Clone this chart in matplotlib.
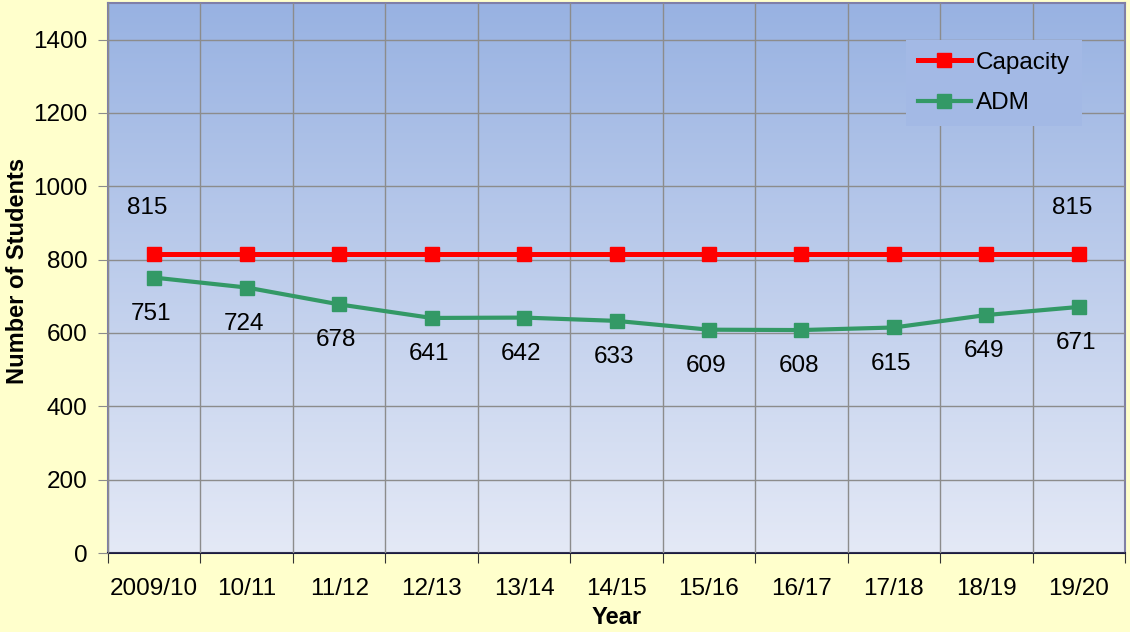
import numpy as np
import matplotlib.pyplot as plt
from matplotlib.colors import LinearSegmentedColormap

plt.rcParams['font.family'] = ['Liberation Sans', 'DejaVu Sans']

years = ['2009/10', '10/11', '11/12', '12/13', '13/14', '14/15',
         '15/16', '16/17', '17/18', '18/19', '19/20']
capacity = [815, 815, 815, 815, 815, 815, 815, 815, 815, 815, 815]
adm = [751, 724, 678, 641, 642, 633, 609, 608, 615, 649, 671]

fs = 17.5

fig = plt.figure(figsize=(11.3, 6.32), dpi=100, facecolor='#FFFFCC')
ax = fig.add_axes([0.0956, 0.125, 0.9, 0.8703])

x = np.arange(len(years))

# gradient background of the plot area
grad = LinearSegmentedColormap.from_list('bg', ['#E4E9F6', '#98B2E2'])
ax.imshow(np.linspace(0, 1, 256).reshape(-1, 1), cmap=grad, origin='lower',
          extent=[-0.5, len(years) - 0.5, 0, 1500], aspect='auto', zorder=0)

ax.plot(x, capacity, color='#FF0000', lw=3.6, marker='s', ms=10, label='Capacity', zorder=4)
ax.plot(x, adm, color='#339966', lw=3.0, marker='s', ms=10, label='ADM', zorder=3)

# data labels
for i in [0, len(years) - 1]:
    ax.annotate(str(capacity[i]), (x[i], capacity[i]), xytext=(-5, 33),
                textcoords='offset points', ha='center', va='center', fontsize=fs)
for i, v in enumerate(adm):
    ax.annotate(str(v), (x[i], v), xytext=(-2, -26),
                textcoords='offset points', ha='center', va='center', fontsize=fs)

ax.set_xlim(-0.5, len(years) - 0.5)
ax.set_ylim(0, 1500)
ax.set_yticks(np.arange(0, 1401, 200))
ax.set_xticks(np.arange(-0.5, len(years), 1))
ax.set_xticklabels([])
ax.set_xticks(x, minor=True)
ax.set_xticklabels(years, minor=True)
ax.tick_params(axis='x', which='minor', length=0, pad=18, labelsize=fs)
ax.tick_params(axis='x', which='major', length=7, color='#333333')
ax.tick_params(axis='y', length=7, color='#8C8C8C', labelsize=fs, pad=8)

ax.grid(True, which='major', color='#8C8C8C', lw=1)
ax.set_axisbelow(False)
for gl in ax.get_xgridlines() + ax.get_ygridlines():
    gl.set_zorder(1)

for s in ['left', 'top', 'right']:
    ax.spines[s].set_color('#7F7FA8')
    ax.spines[s].set_linewidth(1.5)
ax.spines['bottom'].set_color('#1A1A40')
ax.spines['bottom'].set_linewidth(1.5)

ax.set_xlabel('Year', fontsize=fs - 0.5, fontweight='bold', labelpad=4)
ax.set_ylabel('Number of Students', fontsize=fs - 0.5, fontweight='bold')
ax.yaxis.set_label_coords(-0.078, 0.513)

leg = ax.legend(loc='upper right', bbox_to_anchor=(0.958, 0.933), fontsize=fs,
                frameon=True, fancybox=False, handlelength=2.2, handletextpad=0.2,
                borderpad=0.5, labelspacing=0.75, borderaxespad=0)
leg.get_frame().set_facecolor('#A3B9E5')
leg.get_frame().set_edgecolor('none')
leg.get_frame().set_alpha(1)

plt.savefig('out.png', dpi=100, facecolor=fig.get_facecolor())
